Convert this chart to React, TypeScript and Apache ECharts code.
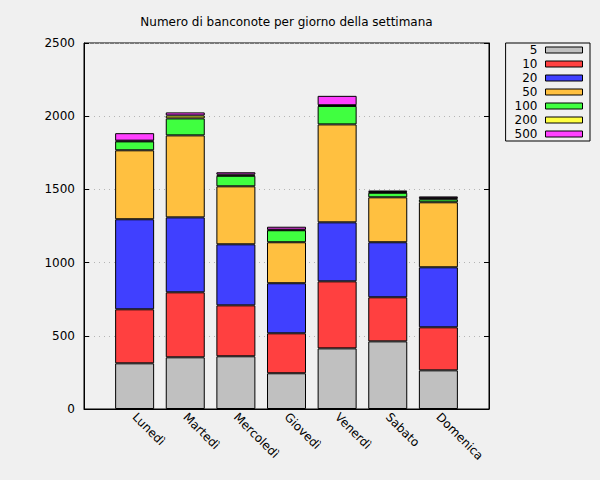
import React, { useEffect, useRef } from "react";
import * as echarts from "echarts";

const titleText = "Numero di banconote per giorno della settimana";
const days = ["Lunedì", "Martedì", "Mercoledì", "Giovedì", "Venerdì", "Sabato", "Domenica"];
const seriesNames = ["5", "10", "20", "50", "100", "200", "500"];
const v5 = [312, 353, 360, 244, 414, 462, 264];
const v10 = [369, 444, 348, 273, 458, 301, 294];
const v20 = [615, 512, 417, 342, 403, 376, 410];
const v50 = [471, 560, 396, 280, 669, 307, 444];
const v100 = [61, 116, 72, 82, 126, 31, 20];
const v200 = [5, 20, 8, 4, 5, 6, 8];
const v500 = [51, 21, 16, 20, 64, 9, 12];
const colors = ["#c0c0c0", "#ff4040", "#4040ff", "#ffc040", "#40ff40", "#ffff40", "#ff40ff"];
const yTicks = { min: 0, max: 2500, interval: 500 };

const FONT = "DejaVu Sans";

export default function App() {
  const ref = useRef<HTMLDivElement>(null);
  useEffect(() => {
    if (!ref.current) return;
    const chart = echarts.init(ref.current, null, { renderer: "svg" });
    const allValues = [v5, v10, v20, v50, v100, v200, v500];
    // empty slots at both ends give the axis its margin of one step on each side
    const axisCategories = ["", ...days, " "];
    const series = allValues.map((vals, si) => ({
      name: seriesNames[si],
      type: "bar",
      stack: "total",
      barWidth: 39,
      data: vals.map((v, i) => [days[i], v]),
      itemStyle: { color: colors[si], borderColor: "#000", borderWidth: 1 },
      emphasis: { disabled: true },
    }));
    chart.setOption({
      animation: false,
      backgroundColor: "#f0f0f0",
      textStyle: { fontFamily: FONT },
      graphic: [
        {
          type: "text",
          x: 286.5,
          y: 22,
          style: {
            text: titleText,
            fontFamily: FONT,
            fontSize: 12,
            fill: "#000",
            textAlign: "center",
            textVerticalAlign: "middle",
          },
        },
      ],
      grid: {
        left: 84,
        right: 111,
        top: 43,
        bottom: 71,
        show: true,
        borderColor: "#000",
        borderWidth: 1,
        backgroundColor: "transparent",
      },
      legend: {
        data: seriesNames,
        orient: "vertical",
        right: 10,
        top: 43,
        align: "right",
        icon: "rect",
        itemWidth: 37,
        itemHeight: 6,
        itemGap: 0,
        padding: [0, 7, 0, 9],
        borderColor: "#000",
        borderWidth: 1,
        itemStyle: { borderWidth: 1, borderColor: "#000" },
        textStyle: {
          fontFamily: FONT,
          fontSize: 12,
          fontWeight: "normal",
          color: "#000",
          lineHeight: 14,
          padding: [0, 3, 0, 0],
        },
        selectedMode: false,
      },
      xAxis: {
        type: "category",
        data: axisCategories,
        boundaryGap: false,
        axisLine: { show: true, lineStyle: { color: "#000" } },
        axisTick: { show: false },
        splitLine: { show: false },
        axisLabel: {
          interval: 0,
          rotate: -45,
          margin: 6,
          fontFamily: FONT,
          fontSize: 12,
          color: "#000",
        },
      },
      yAxis: [
        {
          type: "value",
          ...yTicks,
          position: "left",
          axisLine: { show: true, onZero: false, lineStyle: { color: "#000" } },
          axisTick: { show: true, inside: true, length: 5, lineStyle: { color: "#000" } },
          axisLabel: { fontFamily: FONT, fontSize: 12, color: "#000", margin: 9, formatter: (v: number) => String(v) },
          splitLine: { show: true, lineStyle: { color: "#b4b4b4", type: [1, 4] } },
        },
        {
          type: "value",
          ...yTicks,
          position: "right",
          axisLine: { show: true, onZero: false, lineStyle: { color: "#000" } },
          axisTick: { show: true, inside: true, length: 5, lineStyle: { color: "#000" } },
          axisLabel: { show: false },
          splitLine: { show: false },
        },
      ],
      series,
    });
    return () => chart.dispose();
  }, []);
  return (
    <div
      ref={ref}
      style={{ position: "fixed", left: 0, top: 0, width: 600, height: 480 }}
    />
  );
}
